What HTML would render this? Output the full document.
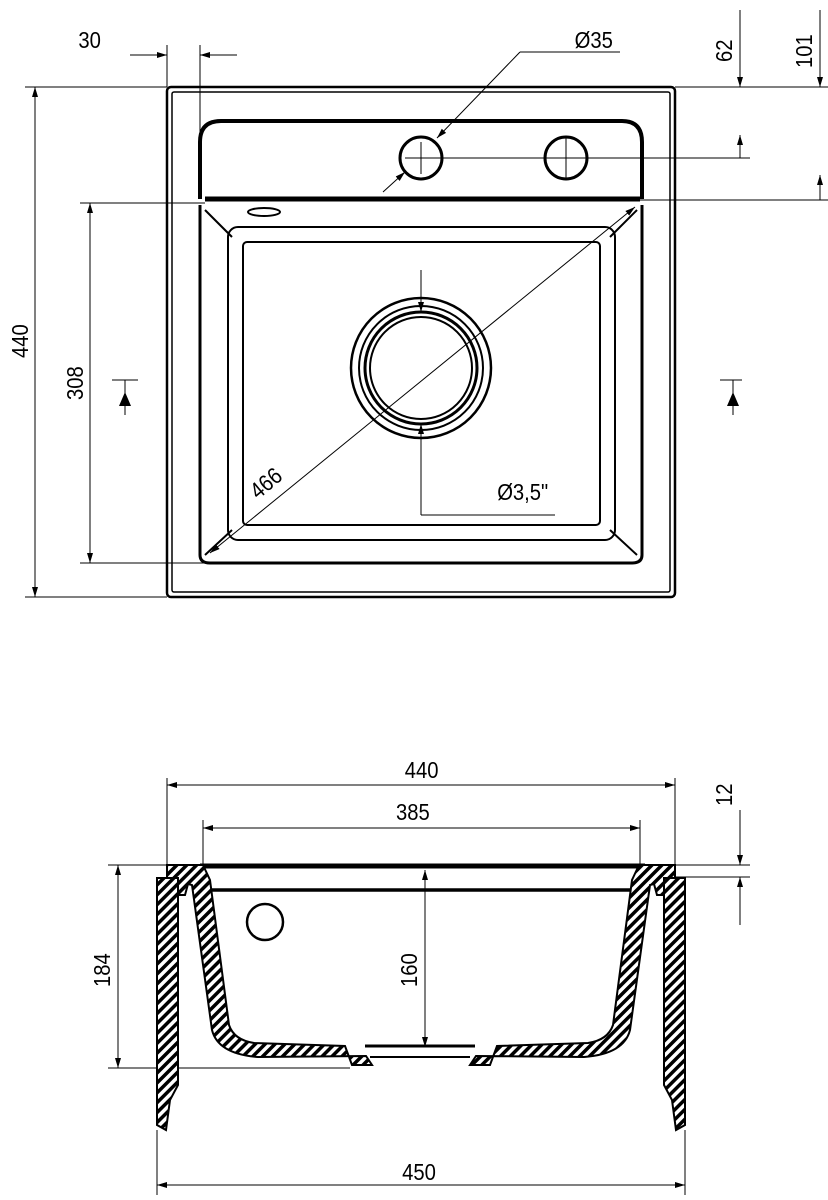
<!DOCTYPE html>
<html><head><meta charset="utf-8"><style>
html,body{margin:0;padding:0;background:#fff}
svg{display:block}
text{font-family:"Liberation Sans",sans-serif;font-size:23px;fill:#000}
</style></head><body>
<svg width="828" height="1200" viewBox="0 0 828 1200" xmlns="http://www.w3.org/2000/svg">
<defs>
<pattern id="h" width="7" height="7" patternUnits="userSpaceOnUse" patternTransform="rotate(45)">
<rect width="7" height="7" fill="#fff"/><rect width="3.5" height="7" fill="#000"/>
</pattern>
<marker id="a" viewBox="0 0 10 10" refX="10" refY="5" markerWidth="10" markerHeight="10" markerUnits="userSpaceOnUse" orient="auto-start-reverse"><path d="M0,2 L10,5 L0,8z" fill="#000"/></marker>
</defs>
<g fill="none" stroke="#000">
<rect x="167" y="87" width="508" height="510" rx="4" stroke-width="2.5"/>
<rect x="172" y="92" width="498" height="500" rx="2" stroke-width="1.5"/>
<path d="M200,199 L200,142 Q200,121 221,121 L622,121 Q642,121 642,142 L642,199" stroke-width="4"/>
<line x1="205" y1="199" x2="640" y2="199" stroke-width="5"/>
<path d="M200,205 L200,555 Q200,563 210,563 L632,563 Q642,563 642,555 L642,205" stroke-width="3"/>
<rect x="228" y="227" width="387" height="313" rx="10" stroke-width="2"/>
<rect x="243" y="242" width="357" height="283" rx="4" stroke-width="2"/>
<line x1="205" y1="210" x2="232" y2="237" stroke-width="2"/>
<line x1="637" y1="210" x2="610" y2="237" stroke-width="2"/>
<line x1="205" y1="555" x2="232" y2="530" stroke-width="2"/>
<line x1="637" y1="555" x2="610" y2="530" stroke-width="2"/>
<ellipse cx="264" cy="212" rx="16" ry="4" stroke-width="2"/>
<circle cx="421" cy="368" r="70" stroke-width="2.5"/>
<circle cx="421" cy="368" r="62" stroke-width="2"/>
<circle cx="421" cy="368" r="56" stroke-width="3"/>
<circle cx="421" cy="368" r="51" stroke-width="2"/>
<circle cx="421" cy="158" r="21" stroke-width="3"/>
<circle cx="566" cy="158" r="21" stroke-width="3"/>
<g stroke-width="1">
<line x1="405" y1="158" x2="750" y2="158"/>
<line x1="421" y1="142" x2="421" y2="174"/>
<line x1="566" y1="138" x2="566" y2="178"/>
<line x1="675" y1="87" x2="828" y2="87"/>
<line x1="640" y1="200" x2="828" y2="200"/>
<line x1="25" y1="87" x2="167" y2="87"/>
<line x1="25" y1="597" x2="167" y2="597"/>
<line x1="80" y1="203" x2="205" y2="203"/>
<line x1="80" y1="563" x2="205" y2="563"/>
<line x1="167" y1="45" x2="167" y2="87"/>
<line x1="200" y1="45" x2="200" y2="199"/>
<line x1="35" y1="87" x2="35" y2="597" marker-start="url(#a)" marker-end="url(#a)"/>
<line x1="90" y1="203" x2="90" y2="563" marker-start="url(#a)" marker-end="url(#a)"/>
<line x1="130" y1="55" x2="167" y2="55" marker-end="url(#a)"/>
<line x1="237" y1="55" x2="200" y2="55" marker-end="url(#a)"/>
<line x1="740" y1="10" x2="740" y2="87" marker-end="url(#a)"/>
<line x1="740" y1="135" x2="740" y2="158" marker-start="url(#a)"/>
<line x1="820" y1="10" x2="820" y2="87" marker-end="url(#a)"/>
<line x1="820" y1="175" x2="820" y2="200" marker-start="url(#a)"/>
<line x1="620" y1="52" x2="520" y2="52"/>
<line x1="520" y1="52" x2="437" y2="138" marker-end="url(#a)"/>
<line x1="383" y1="192" x2="405" y2="172" marker-end="url(#a)"/>
<line x1="210" y1="553" x2="635" y2="207" marker-start="url(#a)" marker-end="url(#a)"/>
<line x1="421" y1="270" x2="421" y2="312" marker-end="url(#a)"/>
<line x1="421" y1="515" x2="421" y2="424" marker-end="url(#a)"/>
<line x1="421" y1="515" x2="555" y2="515"/>
<path d="M112,380 H138 M125,380 V415 M720,380 H742 M733,380 V415"/>
</g>
<path d="M119,406 L125,392 L131,406z M727,406 L733,392 L739,406z" fill="#000" stroke="none"/>
<g stroke-width="1">
<line x1="167" y1="778" x2="167" y2="865"/>
<line x1="675" y1="778" x2="675" y2="865"/>
<line x1="203" y1="820" x2="203" y2="868"/>
<line x1="640" y1="820" x2="640" y2="868"/>
<line x1="167" y1="785" x2="675" y2="785" marker-start="url(#a)" marker-end="url(#a)"/>
<line x1="203" y1="828" x2="640" y2="828" marker-start="url(#a)" marker-end="url(#a)"/>
<line x1="675" y1="865" x2="750" y2="865"/>
<line x1="675" y1="877" x2="750" y2="877"/>
<line x1="740" y1="810" x2="740" y2="865" marker-end="url(#a)"/>
<line x1="740" y1="925" x2="740" y2="877" marker-end="url(#a)"/>
<line x1="108" y1="865" x2="170" y2="865"/>
<line x1="108" y1="1068" x2="350" y2="1068"/>
<line x1="118" y1="865" x2="118" y2="1068" marker-start="url(#a)" marker-end="url(#a)"/>
<line x1="425" y1="870" x2="425" y2="1047" marker-start="url(#a)" marker-end="url(#a)"/>
<line x1="157" y1="1130" x2="157" y2="1195"/>
<line x1="685" y1="1130" x2="685" y2="1195"/>
<line x1="157" y1="1185" x2="685" y2="1185" marker-start="url(#a)" marker-end="url(#a)"/>
</g>
<line x1="200" y1="866" x2="645" y2="866" stroke-width="5"/>
<line x1="205" y1="890" x2="640" y2="890" stroke-width="3.5"/>
<line x1="365" y1="1046" x2="475" y2="1046" stroke-width="3"/>
<line x1="370" y1="1057" x2="470" y2="1057" stroke-width="2"/>
<circle cx="265" cy="922" r="18" stroke-width="2.5"/>
</g>
<g stroke="#000" stroke-width="2" fill="url(#h)">
<path d="M167,865 L203,865 L210,880 L229,1025 Q234,1040 254,1043 L345,1046 L352,1065 L372,1065 L366,1056 L258,1057 Q218,1054 212,1030 L192,885 L188,884 L185,895 L178,895 L178,878 L167,878Z"/>
<path d="M675,865 L639,865 L632,880 L613,1025 Q608,1040 588,1043 L497,1046 L490,1065 L470,1065 L476,1056 L584,1057 Q624,1054 630,1030 L650,885 L654,884 L657,895 L664,895 L664,878 L675,878Z"/>
<path d="M157,878 L178,878 L178,1085 L170,1100 L166,1130 L157,1125Z"/>
<path d="M685,878 L664,878 L664,1085 L672,1100 L676,1130 L685,1125Z"/>
</g>
<g transform="scale(0.88,1)">
<text x="89" y="48">30</text>
<text x="653" y="48">Ø35</text>
<text x="565" y="500">Ø3,5"</text>
<text x="460" y="778">440</text>
<text x="450" y="820">385</text>
<text x="457" y="1180">450</text>
</g>
<text transform="translate(732,62) rotate(-90) scale(0.88,1)">62</text>
<text transform="translate(812,68) rotate(-90) scale(0.88,1)">101</text>
<text transform="translate(28,358) rotate(-90) scale(0.88,1)">440</text>
<text transform="translate(83,400) rotate(-90) scale(0.88,1)">308</text>
<text transform="translate(258,500) rotate(-40) scale(0.88,1)">466</text>
<text transform="translate(732,806) rotate(-90) scale(0.88,1)">12</text>
<text transform="translate(110,987) rotate(-90) scale(0.88,1)">184</text>
<text transform="translate(417,987) rotate(-90) scale(0.88,1)">160</text>
</svg>
</body></html>
